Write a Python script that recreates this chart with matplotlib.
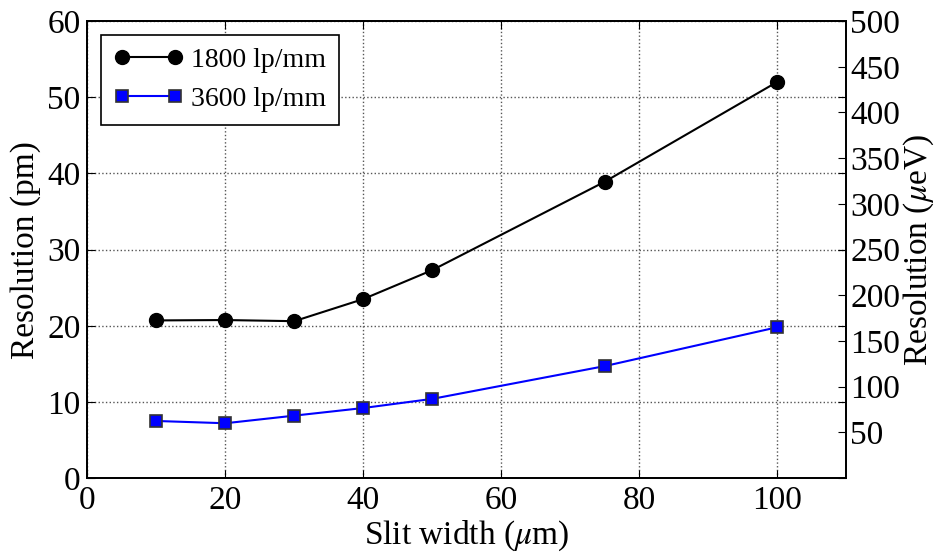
import numpy as np
import matplotlib
matplotlib.use("Agg")
import matplotlib.pyplot as plt

plt.rcParams['font.family'] = ['Liberation Serif', 'DejaVu Serif']
plt.rcParams['mathtext.fontset'] = 'stix'

slit = [10, 20, 30, 40, 50, 75, 100]
res_1800 = [20.7, 20.75, 20.6, 23.5, 27.3, 38.9, 52.0]
res_3600 = [7.5, 7.2, 8.2, 9.2, 10.4, 14.7, 19.8]
right_ticks = [50, 100, 150, 200, 250, 300, 350, 400, 450, 500]

fig = plt.figure(figsize=(9.39, 5.54), dpi=100)
ax = fig.add_axes([0.093, 0.137, 0.808, 0.825])

ax.plot(slit, res_1800, '-o', color='black', lw=1.5, ms=10, mfc='black', mec='black',
        label='1800 lp/mm')
ax.plot(slit, res_3600, '-s', color='blue', lw=1.5, ms=9, mfc='blue', mec='#333333',
        mew=1.2, label='3600 lp/mm')

ax.set_xlim(0, 110)
ax.set_ylim(0, 60)
ax.set_xticks([0, 20, 40, 60, 80, 100])
ax.set_yticks([0, 10, 20, 30, 40, 50, 60])
ax.grid(True, linestyle=':', color='#555555', lw=1)
ax.set_xlabel(r'Slit width ($\mu$m)', fontsize=24, labelpad=2)
ax.set_ylabel('Resolution (pm)', fontsize=24, labelpad=4)

leg = ax.legend(loc='upper left', numpoints=2, fontsize=20, fancybox=False,
                framealpha=1, edgecolor='black', handlelength=2.5, borderpad=0.45,
                labelspacing=0.5, handletextpad=0.3)
leg.get_frame().set_linewidth(1.2)

ax2 = ax.twinx()
ax2.set_ylim(0, 500)
ax2.set_yticks(right_ticks)
ax2.tick_params(direction='in', labelsize=24, length=6, pad=3)
ax2.set_ylabel(r'Resolution ($\mu$eV)', fontsize=24, labelpad=1)

ax.tick_params(direction='in', labelsize=24, length=6, top=True, right=True,
               labelright=False, pad=5)

for a in (ax, ax2):
    for s in a.spines.values():
        s.set_linewidth(1.3)

fig.savefig('out.png', dpi=100)
